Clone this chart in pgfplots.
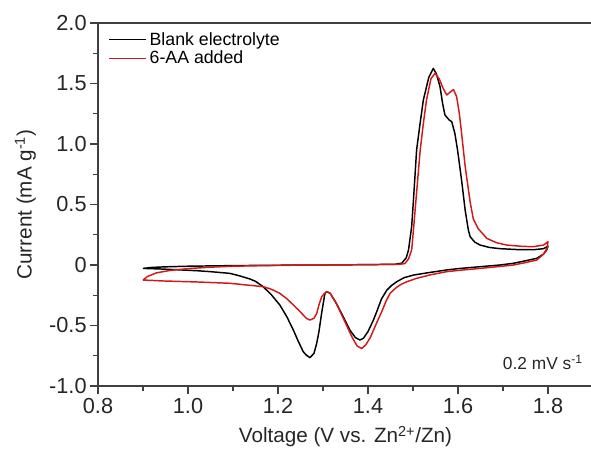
\documentclass[border=0pt]{standalone}
\usepackage{fontspec}
\setmainfont{Liberation Sans}
\usepackage{pgfplots}
\pgfplotsset{compat=1.18}
\definecolor{cvred}{rgb}{0.82,0.10,0.10}
\definecolor{axgray}{rgb}{0.25,0.25,0.25}

\begin{document}
\begin{tikzpicture}
\begin{axis}[
  name=ax,
  scale only axis,
  width=371.25pt, height=272.25pt,
  xmin=0.8, xmax=1.9,
  ymin=-1.0, ymax=2.0,
  xtick={0.8,1.0,1.2,1.4,1.6,1.8},
  xticklabels={0.8,1.0,1.2,1.4,1.6,1.8},
  ytick={-1.0,-0.5,0,0.5,1.0,1.5,2.0},
  yticklabels={-1.0,-0.5,0,0.5,1.0,1.5,2.0},
  minor x tick num=1, minor y tick num=1,
  xtick pos=bottom, ytick pos=left,
  tick align=outside,
  major tick length=6pt, minor tick length=4pt,
  tick style={axgray, line width=0.9pt},
  axis line style={axgray, line width=1.1pt},
  ticklabel style={font=\fontsize{16.3}{18}\selectfont, text=black!85},
  yticklabel style={xshift=1pt},
  label style={font=\fontsize{15.5}{18}\selectfont, text=black!85},
  xlabel={Voltage (V vs. Zn\textsuperscript{2+}/Zn)},
  ylabel={Current (mA g\textsuperscript{-1})},
  xlabel style={yshift=-2pt},
  ylabel style={yshift=3pt},
  legend style={draw=none, fill=none, at={(rel axis cs:0.015,0.99)}, anchor=north west,
    font=\fontsize{13.3}{15.5}\selectfont, row sep=-1pt, inner sep=2pt},
  legend cell align=left,
  legend image code/.code={\draw[#1] (0cm,0cm) -- (0.98cm,0cm);},
  every axis plot/.append style={line width=1.1pt, line join=round},
]
\addplot[black] coordinates {
(0.9,-0.028) (0.92,-0.02) (0.95,-0.015) (1.0,-0.01) (1.1,-0.005) (1.2,-0.002)
(1.3,0.0) (1.4,0.003) (1.46,0.006) (1.475,0.015) (1.485,0.06) (1.49,0.124)
(1.497,0.317) (1.501,0.537) (1.508,0.95) (1.515,1.15) (1.523,1.364) (1.535,1.55)
(1.545,1.625) (1.552,1.58) (1.56,1.474) (1.566,1.33) (1.571,1.24) (1.58,1.2)
(1.586,1.185) (1.593,1.088) (1.599,0.95) (1.604,0.812) (1.608,0.7) (1.616,0.45)
(1.623,0.289) (1.627,0.234) (1.637,0.19) (1.649,0.165) (1.67,0.145) (1.693,0.135)
(1.73,0.128) (1.767,0.126) (1.79,0.135) (1.8,0.155)
(1.797,0.124) (1.79,0.09) (1.775,0.055) (1.75,0.035) (1.723,0.014) (1.693,0.0)
(1.649,-0.014) (1.6,-0.03) (1.575,-0.041) (1.54,-0.06) (1.501,-0.083) (1.48,-0.105)
(1.464,-0.138) (1.452,-0.17) (1.442,-0.207) (1.43,-0.28) (1.42,-0.38) (1.412,-0.455)
(1.4,-0.55) (1.39,-0.605) (1.382,-0.62) (1.372,-0.6) (1.36,-0.54) (1.345,-0.427)
(1.33,-0.32) (1.316,-0.234) (1.308,-0.22) (1.304,-0.24) (1.297,-0.397) (1.291,-0.55)
(1.286,-0.647) (1.28,-0.73) (1.271,-0.766) (1.263,-0.745) (1.256,-0.716) (1.245,-0.63)
(1.234,-0.537) (1.22,-0.43) (1.204,-0.33) (1.185,-0.245) (1.167,-0.179) (1.15,-0.135)
(1.138,-0.116) (1.115,-0.09) (1.093,-0.069) (1.05,-0.055) (1.019,-0.047) (0.98,-0.04)
(0.94,-0.033) (0.9,-0.028)
};
\addlegendentry{Blank electrolyte}
\addplot[cvred] coordinates {
(0.9,-0.124) (0.91,-0.095) (0.93,-0.065) (0.96,-0.045) (1.0,-0.03) (1.05,-0.018)
(1.1,-0.01) (1.2,-0.003) (1.3,0.0) (1.4,0.003) (1.47,0.006) (1.482,0.012)
(1.49,0.05) (1.497,0.124) (1.501,0.289) (1.508,0.6) (1.516,0.95) (1.523,1.17)
(1.53,1.364) (1.54,1.54) (1.549,1.584) (1.558,1.54) (1.567,1.46) (1.575,1.405)
(1.583,1.43) (1.59,1.45) (1.597,1.39) (1.603,1.25) (1.608,1.088) (1.616,0.812)
(1.621,0.68) (1.627,0.52) (1.634,0.38) (1.645,0.3) (1.664,0.22) (1.685,0.185)
(1.708,0.165) (1.74,0.155) (1.767,0.151) (1.79,0.165) (1.8,0.193)
(1.798,0.14) (1.79,0.09) (1.775,0.041) (1.75,0.02) (1.723,0.0) (1.693,-0.012)
(1.649,-0.028) (1.6,-0.045) (1.575,-0.055) (1.54,-0.08) (1.508,-0.11) (1.485,-0.14)
(1.471,-0.165) (1.46,-0.195) (1.449,-0.234) (1.44,-0.3) (1.43,-0.39) (1.419,-0.48)
(1.405,-0.6) (1.395,-0.66) (1.386,-0.69) (1.376,-0.67) (1.365,-0.6) (1.35,-0.48)
(1.345,-0.44) (1.33,-0.32) (1.316,-0.234) (1.308,-0.22) (1.302,-0.24) (1.297,-0.262)
(1.291,-0.33) (1.286,-0.4) (1.28,-0.44) (1.271,-0.455) (1.263,-0.44) (1.256,-0.413)
(1.245,-0.37) (1.234,-0.33) (1.22,-0.28) (1.204,-0.234) (1.185,-0.2) (1.167,-0.179)
(1.13,-0.165) (1.093,-0.151) (1.019,-0.14) (0.945,-0.132) (0.9,-0.124)
};
\addlegendentry{6-AA added}
\node[anchor=east, inner sep=0pt, font=\fontsize{13}{15}\selectfont, text=black!85]
  at (rel axis cs:0.98,0.065) {0.2 mV s\textsuperscript{-1}};
\end{axis}
\pgfresetboundingbox
\path (-73.5pt,-51pt) rectangle (369.75pt,289.5pt);
\end{tikzpicture}
\end{document}
